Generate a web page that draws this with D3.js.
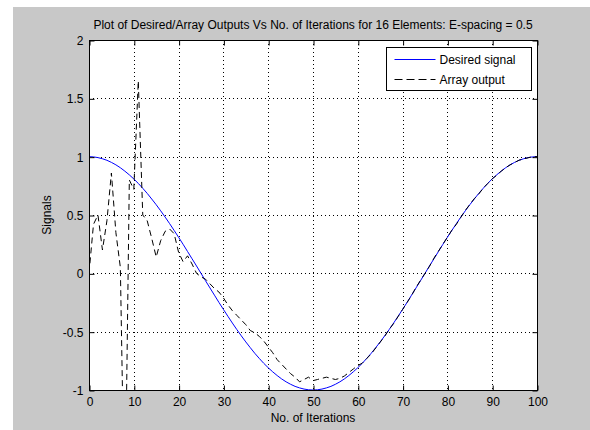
<!DOCTYPE html>
<html>
<head>
<meta charset="utf-8">
<script src="https://cdn.jsdelivr.net/npm/d3@7"></script>
<style>
  body { margin: 0; background: #fff; }
  text { font-family: "Liberation Sans", Arial, sans-serif; }
</style>
</head>
<body>
<div id="chart"></div>
<script>
// Chart texts
const titleText = "Plot of Desired/Array Outputs Vs No. of Iterations for 16 Elements: E-spacing = 0.5";
const xLabel = "No. of Iterations";
const yLabel = "Signals";
const seriesNames = ["Desired signal", "Array output"];

// Tick values
const xTicks = [0, 10, 20, 30, 40, 50, 60, 70, 80, 90, 100];
const yTicks = [-1, -0.5, 0, 0.5, 1, 1.5, 2];

// Desired signal, one value per iteration 0..100
const desired = [
  1, 0.998, 0.992, 0.982, 0.969, 0.951, 0.930, 0.905, 0.876, 0.844,
  0.809, 0.771, 0.729, 0.685, 0.637, 0.588, 0.536, 0.482, 0.426, 0.368,
  0.309, 0.249, 0.187, 0.125, 0.063, 0, -0.063, -0.125, -0.187, -0.249,
  -0.309, -0.368, -0.426, -0.482, -0.536, -0.588, -0.637, -0.685, -0.729, -0.771,
  -0.809, -0.844, -0.876, -0.905, -0.930, -0.951, -0.969, -0.982, -0.992, -0.998,
  -1, -0.998, -0.992, -0.982, -0.969, -0.951, -0.930, -0.905, -0.876, -0.844,
  -0.809, -0.771, -0.729, -0.685, -0.637, -0.588, -0.536, -0.482, -0.426, -0.368,
  -0.309, -0.249, -0.187, -0.125, -0.063, 0, 0.063, 0.125, 0.187, 0.249,
  0.309, 0.368, 0.426, 0.482, 0.536, 0.588, 0.637, 0.685, 0.729, 0.771,
  0.809, 0.844, 0.876, 0.905, 0.930, 0.951, 0.969, 0.982, 0.992, 0.998,
  1
];

// Array output, one value per iteration 0..100
const arrayOut = [
  0, 0.42, 0.5, 0.2, 0.45, 0.86, 0.35, 0.05, -2.2, 0.8,
  0.72, 1.65, 0.5, 0.45, 0.3, 0.14, 0.28, 0.36, 0.38, 0.34,
  0.18, 0.1, 0.15, 0.08, 0.0, -0.03, -0.05, -0.09, -0.13, -0.16,
  -0.21, -0.27, -0.32, -0.36, -0.4, -0.44, -0.49, -0.51, -0.54, -0.58,
  -0.63, -0.68, -0.74, -0.78, -0.82, -0.86, -0.89, -0.93, -0.91, -0.89,
  -0.92, -0.91, -0.9, -0.89, -0.9, -0.91, -0.9, -0.88, -0.85, -0.82,
  -0.79, -0.77, -0.73, -0.69, -0.64, -0.59, -0.54, -0.48, -0.43, -0.37,
  -0.31, -0.25, -0.19, -0.12, -0.06, 0.0, 0.06, 0.13, 0.19, 0.25,
  0.31, 0.37, 0.42, 0.48, 0.54, 0.59, 0.64, 0.68, 0.73, 0.77,
  0.81, 0.84, 0.875, 0.905, 0.93, 0.95, 0.97, 0.98, 0.99, 1.0,
  1.0
];

const W = 590, H = 430;
const plot = { left: 89, right: 537, top: 40, bottom: 390 };

const svg = d3.select("#chart").append("svg")
  .attr("width", W)
  .attr("height", H);

// Gray figure background
svg.append("rect")
  .attr("x", 13).attr("y", 7)
  .attr("width", W - 13).attr("height", H - 7)
  .attr("fill", "#c8c8c8");

// Scales
const x = d3.scaleLinear().domain([0, 100]).range([plot.left, plot.right]);
const y = d3.scaleLinear().domain([-1, 2]).range([plot.bottom, plot.top]);

// White axes area
svg.append("rect")
  .attr("x", plot.left).attr("y", plot.top)
  .attr("width", plot.right - plot.left).attr("height", plot.bottom - plot.top)
  .attr("fill", "#fff");

// Dotted grid
const grid = svg.append("g").attr("stroke", "#000").attr("stroke-width", 1)
  .attr("stroke-dasharray", "1,3");
grid.selectAll("line.vx")
  .data(xTicks.slice(1, -1))
  .enter().append("line")
  .attr("x1", d => Math.round(x(d)) + 0.5).attr("x2", d => Math.round(x(d)) + 0.5)
  .attr("y1", plot.top).attr("y2", plot.bottom);
grid.selectAll("line.hy")
  .data(yTicks.slice(1, -1))
  .enter().append("line")
  .attr("y1", d => Math.round(y(d)) + 0.5).attr("y2", d => Math.round(y(d)) + 0.5)
  .attr("x1", plot.left).attr("x2", plot.right);

// Clip the lines to the axes box
svg.append("clipPath").attr("id", "clip")
  .append("rect")
  .attr("x", plot.left).attr("y", plot.top)
  .attr("width", plot.right - plot.left).attr("height", plot.bottom - plot.top);

const line = d3.line()
  .x((d, i) => x(i))
  .y(d => y(d));

const lines = svg.append("g").attr("clip-path", "url(#clip)");

lines.append("path")
  .datum(desired)
  .attr("d", line)
  .attr("fill", "none")
  .attr("stroke", "#0000ff")
  .attr("stroke-width", 1);

lines.append("path")
  .datum(arrayOut)
  .attr("d", line)
  .attr("fill", "none")
  .attr("stroke", "#000")
  .attr("stroke-width", 1)
  .attr("stroke-dasharray", "6,4");

// Axes with inward ticks on all four sides
const tick = 5;
function styleAxis(g) {
  g.select(".domain").remove();
  g.selectAll("text")
    .style("font-family", "'Liberation Sans', Arial, sans-serif")
    .style("font-size", "12px")
    .attr("fill", "#000");
  g.selectAll("line").attr("stroke", "#000");
}

svg.append("g")
  .attr("transform", `translate(0.5,${plot.bottom + 0.5})`)
  .call(d3.axisBottom(x).tickValues(xTicks).tickSizeInner(-tick).tickSizeOuter(0)
    .tickPadding(7).tickFormat(d3.format("d")))
  .call(styleAxis);

svg.append("g")
  .attr("transform", `translate(0.5,${plot.top + 0.5})`)
  .call(d3.axisTop(x).tickValues(xTicks).tickSizeInner(-tick).tickSizeOuter(0)
    .tickFormat(""))
  .call(styleAxis);

svg.append("g")
  .attr("transform", `translate(${plot.left + 0.5},0.5)`)
  .call(d3.axisLeft(y).tickValues(yTicks).tickSizeInner(-tick).tickSizeOuter(0)
    .tickPadding(6).tickFormat(d => d3.format("")(d).replace("−", "-")))
  .call(styleAxis);

svg.append("g")
  .attr("transform", `translate(${plot.right + 0.5},0.5)`)
  .call(d3.axisRight(y).tickValues(yTicks).tickSizeInner(-tick).tickSizeOuter(0)
    .tickFormat(""))
  .call(styleAxis);

// Axes box
svg.append("rect")
  .attr("x", plot.left + 0.5).attr("y", plot.top + 0.5)
  .attr("width", plot.right - plot.left).attr("height", plot.bottom - plot.top)
  .attr("fill", "none")
  .attr("stroke", "#000");

// Title and axis labels
svg.append("text")
  .attr("x", (plot.left + plot.right) / 2)
  .attr("y", 29)
  .attr("text-anchor", "middle")
  .style("font-size", "12px")
  .text(titleText);

svg.append("text")
  .attr("x", (plot.left + plot.right) / 2)
  .attr("y", 422)
  .attr("text-anchor", "middle")
  .style("font-size", "12px")
  .text(xLabel);

svg.append("text")
  .attr("transform", `translate(51,${(plot.top + plot.bottom) / 2}) rotate(-90)`)
  .attr("text-anchor", "middle")
  .style("font-size", "12px")
  .text(yLabel);

// Legend
const legend = svg.append("g").attr("transform", "translate(386.5,47.5)");
legend.append("rect")
  .attr("width", 145).attr("height", 43)
  .attr("fill", "#fff").attr("stroke", "#000");

const legendStyles = [
  { stroke: "#0000ff", dash: null },
  { stroke: "#000", dash: "8,4" }
];
seriesNames.forEach((name, i) => {
  const row = legend.append("g").attr("transform", `translate(0,${12 + i * 20})`);
  row.append("line")
    .attr("x1", 8).attr("x2", 49)
    .attr("y1", 0).attr("y2", 0)
    .attr("stroke", legendStyles[i].stroke)
    .attr("stroke-dasharray", legendStyles[i].dash);
  row.append("text")
    .attr("x", 53).attr("y", 4)
    .style("font-size", "12px")
    .text(name);
});
</script>
</body>
</html>
